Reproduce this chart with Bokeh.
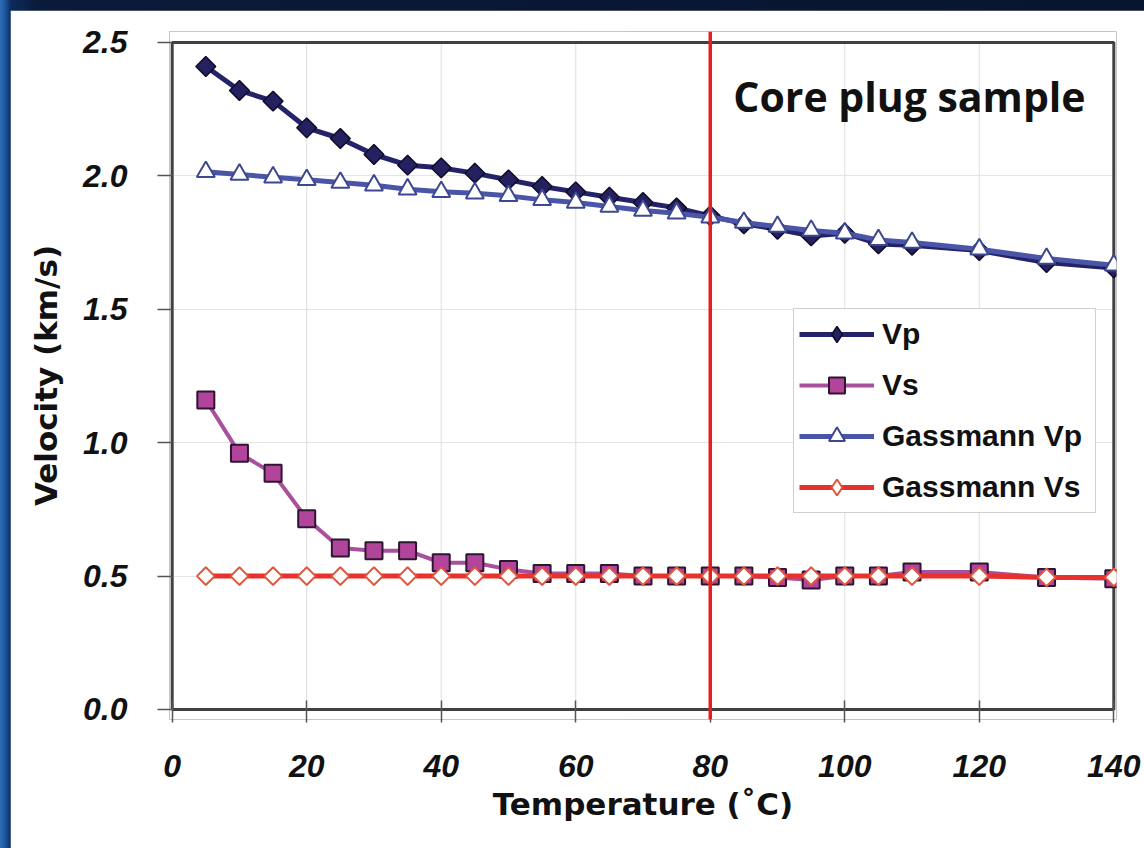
import numpy as np
from bokeh.plotting import figure
from bokeh.layouts import column
from bokeh.models import Span, Label, Legend, LegendItem, NumeralTickFormatter
from bokeh.embed import file_html
from bokeh.resources import INLINE

# Measured velocities against temperature for a core plug sample
temperature = [5, 10, 15, 20, 25, 30, 35, 40, 45, 50, 55, 60, 65, 70, 75,
               80, 85, 90, 95, 100, 105, 110, 120, 130, 140]
vp = [2.41, 2.32, 2.28, 2.18, 2.14, 2.08, 2.04, 2.03, 2.01, 1.985, 1.96, 1.94, 1.92, 1.90, 1.88,
      1.85, 1.82, 1.80, 1.775, 1.785, 1.745, 1.74, 1.72, 1.675, 1.655]
vs = [1.16, 0.96, 0.885, 0.715, 0.605, 0.595, 0.595, 0.55, 0.55, 0.525, 0.51, 0.51, 0.51, 0.50, 0.50,
      0.50, 0.50, 0.495, 0.485, 0.50, 0.50, 0.515, 0.515, 0.495, 0.49]
gassmann_vp = [2.015, 2.005, 1.995, 1.985, 1.975, 1.965, 1.95, 1.94, 1.935, 1.925, 1.91, 1.90, 1.885,
               1.87, 1.86, 1.845, 1.825, 1.81, 1.795, 1.785, 1.76, 1.75, 1.725, 1.69, 1.665]
gassmann_vs = [0.50, 0.50, 0.50, 0.50, 0.50, 0.50, 0.50, 0.50, 0.50, 0.50, 0.50, 0.50, 0.50, 0.50, 0.50,
               0.50, 0.50, 0.50, 0.50, 0.50, 0.50, 0.50, 0.50, 0.495, 0.495]

x_ticks = [0, 20, 40, 60, 80, 100, 120, 140]
y_ticks = [0.0, 0.5, 1.0, 1.5, 2.0, 2.5]
marker_temperature = 80
title_text = "Core plug sample"

p = figure(width=1134, height=838,
           x_range=(-0.4, 140.4), y_range=(-0.0375, 2.541),
           output_backend="svg", toolbar_location=None,
           min_border_left=159, min_border_right=28,
           min_border_top=21, min_border_bottom=129,
           background_fill_color="white", border_fill_color="white")
p.outline_line_color = None
p.margin = (10, 0, 0, 10)

# grid
p.xgrid.grid_line_color = None
p.ygrid.ticker = y_ticks
p.ygrid.grid_line_color = "#e4e4e4"
p.ygrid.grid_line_width = 1
inner_x = x_ticks[1:-1]
p.segment(x0=inner_x, y0=[y_ticks[0]] * len(inner_x), x1=inner_x, y1=[y_ticks[-1]] * len(inner_x),
          line_color="#dedede", line_width=1)

# plot box
p.quad(left=[x_ticks[0]], right=[x_ticks[-1]], bottom=[y_ticks[0]], top=[y_ticks[-1]],
       fill_color=None, line_color="#404040", line_width=3)

# axes
for ax in (p.xaxis, p.yaxis):
    ax.axis_line_color = None
    ax.minor_tick_line_color = None
    ax.major_tick_line_color = "#555555"
    ax.major_tick_line_width = 1.5
    ax.major_label_text_font = "Liberation Sans"
    ax.major_label_text_font_style = "bold italic"
    ax.major_label_text_font_size = "32px"
    ax.major_label_text_color = "#111111"
    ax.axis_label_text_font = "DejaVu Sans"
    ax.axis_label_text_font_style = "bold"
    ax.axis_label_text_font_size = "31px"
    ax.axis_label_text_color = "#111111"

p.xaxis.ticker = x_ticks
p.xaxis.formatter = NumeralTickFormatter(format="0")
p.xaxis.major_tick_in = 19
p.xaxis.major_tick_out = 3
p.xaxis.major_label_standoff = 32
p.xaxis.axis_label = "Temperature (˚C)"
p.xaxis.axis_label_standoff = 6

p.yaxis.ticker = y_ticks
p.yaxis.formatter = NumeralTickFormatter(format="0.0")
p.yaxis.major_tick_in = 3
p.yaxis.major_tick_out = 12
p.yaxis.major_label_standoff = 30
p.yaxis.axis_label = "Velocity (km/s)"
p.yaxis.axis_label_standoff = 16

diamond_angle = np.pi / 4

# series (drawn in legend order so the Gassmann curves sit on top)
vp_style = dict(fill_color="#25205f", line_color="#0f0d2a", line_width=1.5)
l_vp = p.line(temperature, vp, line_color="#24236a", line_width=5)
p.scatter(temperature, vp, marker="square", angle=diamond_angle, size=14, **vp_style)

l_vs = p.line(temperature, vs, line_color="#a9509c", line_width=4)
m_vs = p.scatter(temperature, vs, marker="square", size=17,
                 fill_color="#b2449b", line_color="#2e1530", line_width=2)

l_gvp = p.line(temperature, gassmann_vp, line_color="#4a55a8", line_width=5)
m_gvp = p.scatter(temperature, gassmann_vp, marker="triangle", size=18,
                  fill_color="white", line_color="#3d4890", line_width=2)

gvs_style = dict(fill_color="white", line_color="#e0553e", line_width=2)
l_gvs = p.line(temperature, gassmann_vs, line_color="#e8302c", line_width=5)
p.scatter(temperature, gassmann_vs, marker="square", angle=diamond_angle, size=12.5, **gvs_style)

# hidden diamond renderers used only as legend swatches (legend markers are drawn unrotated)
key_vp = p.scatter(temperature, vp, marker="diamond", visible=False, **vp_style)
key_gvs = p.scatter(temperature, gassmann_vs, marker="diamond", visible=False, **gvs_style)

# reference temperature
p.add_layout(Span(location=marker_temperature, dimension="height",
                  line_color="#e51f1f", line_width=3.5))

p.add_layout(Label(x=135.8, y=2.298, text=title_text, text_align="right",
                   text_baseline="alphabetic", text_font="Open Sans", text_font_style="bold",
                   text_font_size="41px", text_color="#111111"))

legend = Legend(items=[
    LegendItem(label="Vp", renderers=[l_vp, key_vp]),
    LegendItem(label="Vs", renderers=[l_vs, m_vs]),
    LegendItem(label="Gassmann Vp", renderers=[l_gvp, m_gvp]),
    LegendItem(label="Gassmann Vs", renderers=[l_gvs, key_gvs]),
], location=(624, 206))
legend.label_text_font = "Liberation Sans"
legend.label_text_font_style = "bold"
legend.label_text_font_size = "30px"
legend.label_text_color = "#111111"
legend.glyph_width = 75
legend.glyph_height = 40
legend.label_height = 40
legend.label_width = 208
legend.label_standoff = 8
legend.spacing = 11
legend.padding = 5
legend.margin = 0
legend.inactive_fill_alpha = 0.0
legend.border_line_color = "#a0a0a0"
legend.border_line_width = 1.5
legend.background_fill_color = "white"
legend.background_fill_alpha = 1.0
p.add_layout(legend)

page = column(p, width=1144, height=848,
              styles={"background": "linear-gradient(90deg, #2f6fbd 0px, #1b4f95 6px, #0d2a5c 11px, #0a1a3a 40px, #08152f 100%)"})

open("out.html", "w").write(file_html(page, INLINE))
